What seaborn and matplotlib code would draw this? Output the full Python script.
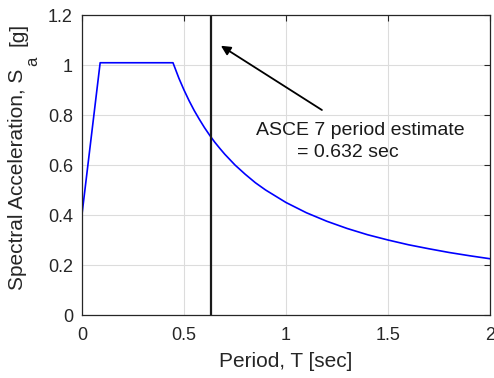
import matplotlib
matplotlib.use("Agg")
import matplotlib.pyplot as plt
import seaborn as sns

# design spectrum
period = [0.0, 0.089, 0.446, 0.475, 0.5, 0.525, 0.55, 0.575, 0.6, 0.625, 0.65,
          0.675, 0.7, 0.75, 0.8, 0.85, 0.9, 1.0, 1.1, 1.2, 1.3, 1.4, 1.5,
          1.6, 1.7, 1.8, 1.9, 2.0]
sa = [0.403, 1.009, 1.009, 0.947, 0.900, 0.857, 0.818, 0.783, 0.750, 0.720, 0.692,
      0.667, 0.643, 0.600, 0.563, 0.529, 0.500, 0.450, 0.409, 0.375, 0.346, 0.321, 0.300,
      0.281, 0.265, 0.250, 0.237, 0.225]

t_estimate = 0.632
x_ticks = [0, 0.5, 1, 1.5, 2]
x_ticklabels = ["0", "0.5", "1", "1.5", "2"]
y_ticks = [0, 0.2, 0.4, 0.6, 0.8, 1.0, 1.2]
y_ticklabels = ["0", "0.2", "0.4", "0.6", "0.8", "1", "1.2"]

sns.set_theme(style="white")
plt.rcParams['font.family'] = ['Liberation Sans', 'DejaVu Sans']

dark = '#262626'
W, H = 494, 378
fig = plt.figure(figsize=(W / 100, H / 100), dpi=100)
ax = fig.add_axes([82 / W, 1 - 315 / H, 408 / W, 300 / H])

sns.lineplot(x=period, y=sa, ax=ax, color='#0000ff', linewidth=1.2, sort=False)
ax.axvline(t_estimate, color='#1a1a1a', linewidth=1.6)

ax.annotate('', xy=(0.681, 1.077), xytext=(1.176, 0.82),
            arrowprops=dict(arrowstyle='-|>', color='black', lw=1.3,
                            mutation_scale=14, shrinkA=0, shrinkB=0))
ax.text(0.853, 0.72, 'ASCE 7 period estimate', ha='left', va='baseline',
        fontsize=14, color='#1a1a1a')
ax.text(1.052, 0.633, '= 0.632 sec', ha='left', va='baseline',
        fontsize=14, color='#1a1a1a')

ax.set_xlim(0, 2)
ax.set_ylim(0, 1.2)
ax.set_xticks(x_ticks)
ax.set_xticklabels(x_ticklabels)
ax.set_yticks(y_ticks)
ax.set_yticklabels(y_ticklabels)
ax.grid(True, color='#dcdcdc', linewidth=0.8)
ax.tick_params(direction='in', length=4, width=0.8, colors=dark, labelsize=13,
               top=True, right=True)
ax.tick_params(axis='x', pad=9)
ax.tick_params(axis='y', pad=6.5)
for s in ax.spines.values():
    s.set_color(dark)
    s.set_linewidth(0.9)

ax.set_xlabel('Period, T [sec]', fontsize=15, color=dark, labelpad=5.5)

# y label built in pieces so the subscript sits low like the original
renderer = fig.canvas.get_renderer()
base_x = 23 / W
kw = dict(rotation=90, rotation_mode='anchor', ha='left', va='baseline', color=dark)
t1 = fig.text(base_x, 1 - 290 / H, 'Spectral Acceleration, S', fontsize=15, **kw)
y1 = t1.get_window_extent(renderer).y1
t2 = fig.text(base_x + 14 / W, (y1 + 3) / H, 'a', fontsize=12, **kw)
y2 = t2.get_window_extent(renderer).y1
fig.text(base_x, (y2 + 10) / H, '[g]', fontsize=15, **kw)

fig.savefig('out.png', dpi=100)
